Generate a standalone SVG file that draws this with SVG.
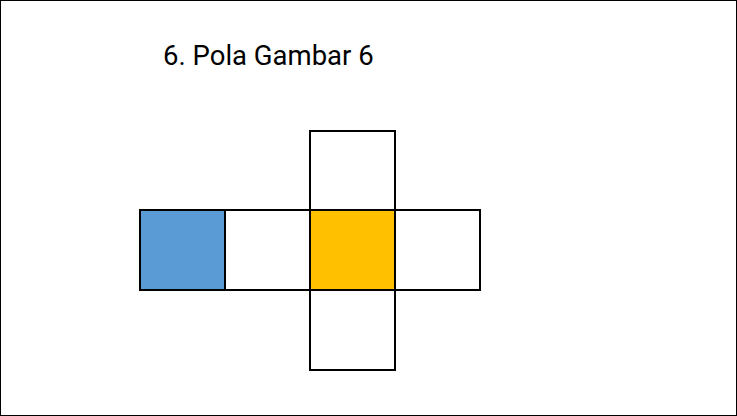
<svg xmlns="http://www.w3.org/2000/svg" width="737" height="416" viewBox="0 0 737 416">
<style>
.sq{stroke:#000;stroke-width:2;fill:#fff}
.t{font-family:Roboto,"Liberation Sans",sans-serif;font-size:27.5px;fill:#000}
</style>
<rect x="0" y="0" width="737" height="416" fill="#fff"/>
<rect x="0.5" y="0.5" width="736" height="415" fill="none" stroke="#000" stroke-width="1"/>
<g id="title"><text class="t" x="163" y="64.5">6. Pola Gambar 6</text></g>
<g id="nodes">
<g id="top"><rect class="sq" x="310" y="131" width="85" height="79"/></g>
<g id="blue"><rect class="sq" x="140" y="210" width="85" height="80" style="fill:#5B9BD5"/></g>
<g id="white1"><rect class="sq" x="225" y="210" width="85" height="80"/></g>
<g id="yellow"><rect class="sq" x="310" y="210" width="85" height="80" style="fill:#FFC000"/></g>
<g id="white2"><rect class="sq" x="395" y="210" width="85" height="80"/></g>
<g id="bottom"><rect class="sq" x="310" y="290" width="85" height="80"/></g>
</g>
<g id="connectors"></g>
</svg>
